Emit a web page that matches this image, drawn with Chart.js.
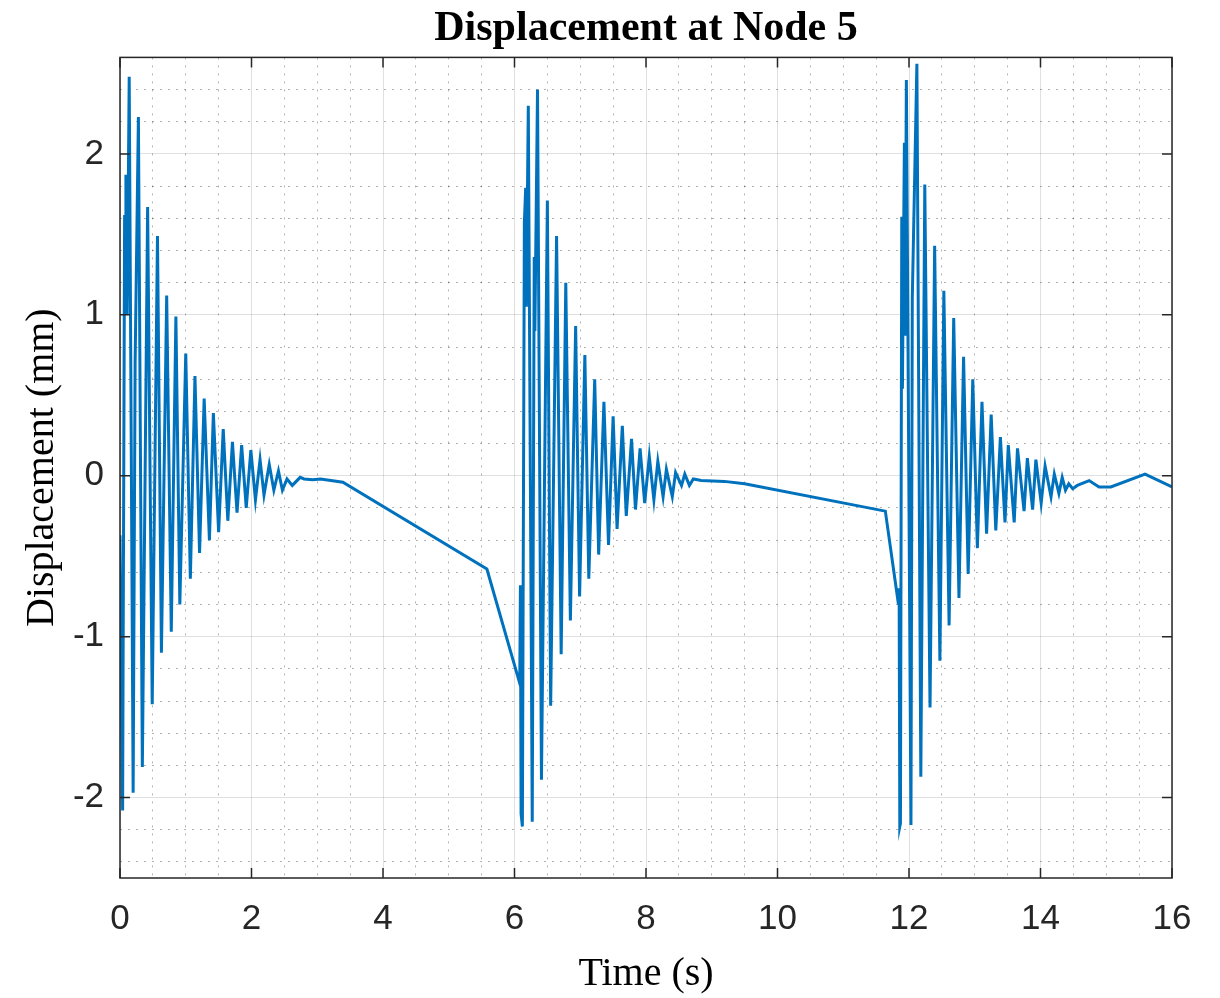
<!DOCTYPE html>
<html>
<head>
<meta charset="utf-8">
<script src="https://cdn.jsdelivr.net/npm/chart.js@4"></script>
<style>
  body { margin: 0; background: #fff; }
  #wrap { width: 1220px; height: 998px; }
</style>
</head>
<body>
<div id="wrap"><canvas id="chart" width="1220" height="998"></canvas></div>
<script>
// time (s) and displacement (mm)
const timeS = [
  0.00, 0.04, 0.07, 0.08, 0.09, 0.11, 0.14, 0.20, 0.23, 0.28, 0.34, 0.42, 0.49, 0.57, 0.63, 0.71,
  0.78, 0.85, 0.91, 1.00, 1.07, 1.14, 1.21, 1.28, 1.36, 1.42, 1.50, 1.57, 1.64, 1.71, 1.78, 1.85,
  1.92, 1.99, 2.06, 2.13, 2.19, 2.27, 2.34, 2.41, 2.47, 2.54, 2.62, 2.74, 2.80, 2.93, 3.05, 3.39,
  5.58, 6.08, 6.09, 6.10, 6.12, 6.15, 6.17, 6.18, 6.21, 6.27, 6.30, 6.31, 6.35, 6.41, 6.50, 6.55,
  6.64, 6.71, 6.78, 6.85, 6.93, 6.99, 7.07, 7.13, 7.22, 7.28, 7.36, 7.43, 7.50, 7.56, 7.64, 7.70,
  7.78, 7.84, 7.91, 7.98, 8.05, 8.12, 8.18, 8.26, 8.31, 8.40, 8.45, 8.54, 8.59, 8.66, 8.72, 8.84,
  9.19, 9.50, 11.64, 11.84, 11.85, 11.86, 11.87, 11.89, 11.90, 11.93, 11.94, 11.96, 12.03, 12.05,
  12.12, 12.18, 12.24, 12.32, 12.39, 12.47, 12.53, 12.61, 12.68, 12.76, 12.83, 12.90, 12.97, 13.04,
  13.11, 13.18, 13.25, 13.32, 13.39, 13.46, 13.51, 13.60, 13.65, 13.75, 13.80, 13.88, 13.93, 14.01,
  14.07, 14.16, 14.21, 14.28, 14.33, 14.38, 14.43, 14.49, 14.56, 14.74, 14.89, 15.07, 15.59, 16.00
];
const dispMm = [
  -0.37, -2.08, 1.62, 1.05, 1.87, 1.00, 2.48, -1.97, 0.70, 2.23, -1.81, 1.67, -1.42, 1.49, -1.10, 1.12,
  -0.97, 0.99, -0.80, 0.76, -0.64, 0.62, -0.48, 0.48, -0.40, 0.39, -0.35, 0.29, -0.28, 0.21, -0.23, 0.19,
  -0.20, 0.16, -0.15, 0.10, -0.12, 0.07, -0.09, 0.03, -0.09, -0.02, -0.06, -0.01, -0.02, -0.025, -0.02, -0.04,
  -0.58, -1.29, -0.68, -2.10, -2.18, 1.57, 1.79, 1.05, 2.30, -2.15, 1.36, 0.90, 2.40, -1.89, 1.71, -1.43,
  1.49, -1.11, 1.20, -0.90, 0.93, -0.75, 0.75, -0.64, 0.60, -0.49, 0.46, -0.43, 0.37, -0.33, 0.31, -0.25,
  0.23, -0.21, 0.17, -0.17, 0.12, -0.15, 0.09, -0.13, 0.04, -0.13, 0.02, -0.06, 0.01, -0.06, -0.02, -0.03,
  -0.035, -0.05, -0.22, -0.80, -0.70, -2.18, -2.16, 1.61, 0.54, 2.07, 0.87, 2.46, -2.17, 1.10,
  2.56, -1.87, 1.81, -1.44, 1.43, -1.15, 1.15, -0.93, 0.98, -0.76, 0.74, -0.61, 0.60, -0.45,
  0.46, -0.36, 0.38, -0.34, 0.24, -0.29, 0.19, -0.29, 0.17, -0.22, 0.11, -0.21, 0.10, -0.17,
  0.06, -0.13, 0.01, -0.11, -0.01, -0.09, -0.05, -0.08, -0.06, -0.03, -0.07, -0.07, 0.01, -0.07
];
const yTicks = [-2, -1, 0, 1, 2];
const xRange = [0, 16];
const yRange = [-2.5, 2.6];

const points = timeS.map((t, i) => ({ x: t, y: dispMm[i] }));

const sans = 'Liberation Sans, Arial, sans-serif';
const serif = 'Liberation Serif, Times New Roman, serif';
const axisGray = '#262626';

// box + inward tick marks, matlab style
const frame = {
  id: 'frame',
  afterDatasetsDraw(chart) {
    const { ctx, chartArea: a, scales: { x, y } } = chart;
    ctx.save();
    ctx.strokeStyle = axisGray;
    ctx.lineWidth = 1.5;
    ctx.strokeRect(a.left, a.top, a.right - a.left, a.bottom - a.top);
    ctx.beginPath();
    x.ticks.forEach(t => {
      const px = x.getPixelForValue(t.value);
      ctx.moveTo(px, a.bottom); ctx.lineTo(px, a.bottom - 10);
      ctx.moveTo(px, a.top); ctx.lineTo(px, a.top + 10);
    });
    y.ticks.forEach(t => {
      const py = y.getPixelForValue(t.value);
      ctx.moveTo(a.left, py); ctx.lineTo(a.left + 10, py);
      ctx.moveTo(a.right, py); ctx.lineTo(a.right - 10, py);
    });
    ctx.stroke();
    ctx.restore();
  }
};

const isWhole = (v, step) => Math.abs(v / step - Math.round(v / step)) < 1e-6;

new Chart(document.getElementById('chart'), {
  type: 'line',
  data: {
    datasets: [{
      data: points,
      borderColor: '#0072BD',
      borderWidth: 3,
      pointRadius: 0,
      tension: 0
    }]
  },
  options: {
    responsive: false,
    animation: false,
    layout: { padding: { left: 0, right: 48, top: 0, bottom: 0 } },
    plugins: {
      legend: { display: false },
      tooltip: { enabled: false },
      title: {
        display: true,
        fullSize: false,
        text: 'Displacement at Node 5',
        color: '#000',
        font: { family: serif, size: 42, weight: 'bold' },
        padding: { top: 4, bottom: 3 }
      }
    },
    scales: {
      x: {
        type: 'linear',
        min: xRange[0], max: xRange[1],
        ticks: { stepSize: 2, color: axisGray, font: { family: sans, size: 35 }, padding: 20, maxRotation: 0 },
        grid: { color: 'rgba(0,0,0,0.12)', lineWidth: 1, drawTicks: false },
        border: { display: false },
        title: { display: true, text: 'Time (s)', color: '#000', font: { family: serif, size: 40 }, padding: { top: 0, bottom: 0 } },
        afterFit: s => { s.height = 120; }
      },
      y: {
        type: 'linear',
        min: yRange[0], max: yRange[1],
        afterBuildTicks: s => { s.ticks = yTicks.map(v => ({ value: v })); },
        ticks: { color: axisGray, font: { family: sans, size: 35 }, padding: 16 },
        grid: { color: 'rgba(0,0,0,0.12)', lineWidth: 1, drawTicks: false },
        border: { display: false },
        title: { display: true, text: 'Displacement (mm)', color: '#000', font: { family: serif, size: 40 }, padding: { top: 18, bottom: 0 } },
        afterFit: s => { s.width = 120; }
      },
      xMinor: {
        type: 'linear',
        position: 'bottom',
        min: xRange[0], max: xRange[1],
        ticks: { display: false, stepSize: 0.5 },
        grid: {
          drawTicks: false,
          lineWidth: 1,
          color: c => (isWhole(c.tick.value, 2) ? 'transparent' : 'rgba(0,0,0,0.3)')
        },
        border: { display: false, dash: [2, 6] },
        afterFit: s => { s.height = 0; }
      },
      yMinor: {
        type: 'linear',
        position: 'left',
        min: yRange[0], max: yRange[1],
        ticks: { display: false, stepSize: 0.2 },
        grid: {
          drawTicks: false,
          lineWidth: 1,
          color: c => (isWhole(c.tick.value, 1) || !isWhole(c.tick.value, 0.2) || c.tick.value >= 2.6 ? 'transparent' : 'rgba(0,0,0,0.3)')
        },
        border: { display: false, dash: [2, 6] },
        afterFit: s => { s.width = 0; }
      }
    }
  },
  plugins: [frame]
});
</script>
</body>
</html>
